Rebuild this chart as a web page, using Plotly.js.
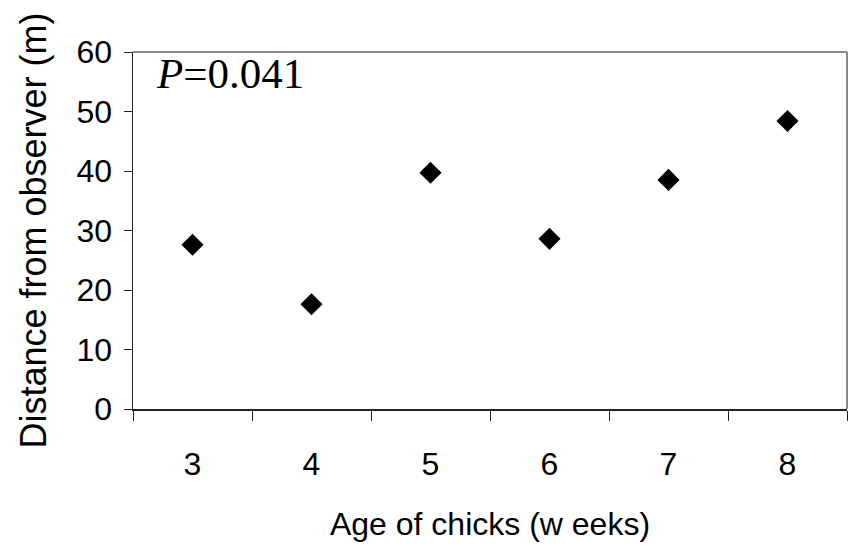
<!DOCTYPE html>
<html><head><meta charset="utf-8">
<script src="https://cdn.plot.ly/plotly-3.0.1.min.js"></script>
<style>html,body{margin:0;padding:0;background:#fff}#chart{width:859px;height:547px}</style>
</head><body><div id="chart"></div>
<script>
const ages = ['3','4','5','6','7','8'];
const distance = [27.6, 17.6, 39.7, 28.6, 38.5, 48.4];
const yTicks = [0, 10, 20, 30, 40, 50, 60];
const pLabel = '<i>P</i>=0.041';

const trace = {
  x: ages, y: distance, type: 'scatter', mode: 'markers',
  marker: {symbol: 'diamond', size: 17, color: '#000'},
  hoverinfo: 'skip'
};
const layout = {
  width: 859, height: 547,
  margin: {l: 133, r: 12, t: 52, b: 138},
  paper_bgcolor: '#fff', plot_bgcolor: '#fff',
  showlegend: false,
  font: {family: 'Liberation Sans, Arial, sans-serif', color: '#000', size: 32},
  xaxis: {
    type: 'category', range: [-0.5, 5.5], tickson: 'boundaries',
    ticks: 'outside', ticklen: 10, tickcolor: '#222', tickwidth: 1,
    showline: true, linecolor: '#222', linewidth: 1.5,
    showgrid: false, zeroline: false,
    tickfont: {size: 32}, ticklabelstandoff: 26,
    title: {text: 'Age of chicks (w eeks)', font: {size: 32}, standoff: 31}
  },
  yaxis: {
    range: [0, 60], tickvals: yTicks, ticktext: yTicks.map(String),
    ticks: 'outside', ticklen: 8, tickcolor: '#222', tickwidth: 1,
    showline: true, linecolor: '#222', linewidth: 1.5,
    showgrid: false, zeroline: false,
    tickfont: {size: 32}, ticklabelstandoff: 5,
    title: {text: 'Distance from observer (m)', font: {size: 36}, standoff: 19}
  },
  shapes: [
    {type: 'line', xref: 'paper', yref: 'paper', x0: 0, x1: 1, y0: 1, y1: 1, line: {color: '#888', width: 2}},
    {type: 'line', xref: 'paper', yref: 'paper', x0: 1, x1: 1, y0: 0, y1: 1, line: {color: '#888', width: 2}}
  ],
  annotations: [
    {xref: 'paper', yref: 'paper', x: 0.03, y: 1.012, xanchor: 'left', yanchor: 'top',
     text: pLabel, showarrow: false, font: {family: 'Liberation Serif, Times New Roman, serif', size: 43, color: '#000'}}
  ]
};
Plotly.newPlot('chart', [trace], layout, {staticPlot: true, displayModeBar: false});
</script></body></html>
